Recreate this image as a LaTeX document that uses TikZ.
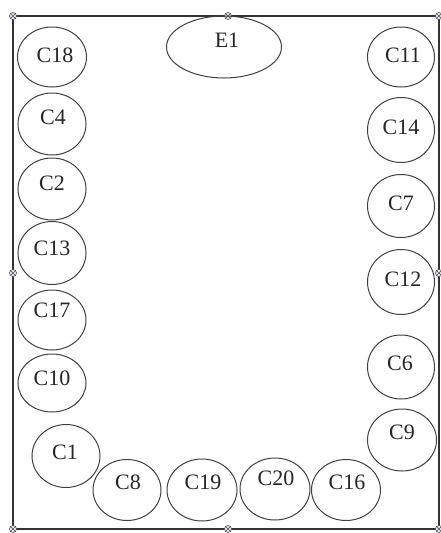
\documentclass[tikz,border=0pt]{standalone}
\usepackage{fontspec}
\setmainfont{Liberation Serif}
\usetikzlibrary{shapes.geometric}
\begin{document}
\begin{tikzpicture}[x=1pt,y=-1pt,
  ell/.style={draw=black!75,line width=1pt,ellipse,inner sep=0pt},
  lbl/.style={inner sep=0pt,font=\fontsize{22}{22}\selectfont,text height=14pt,text depth=0pt,text=black!85},
  frame/.style={draw=black!80,line width=1.3pt},
  handle/.style={circle,draw=black!70,fill=black!10,line width=0.6pt,minimum size=7pt,inner sep=0pt,cross out}
]
\useasboundingbox (0,0) rectangle (441,533);
% frame
\coordinate (tl) at (13,16);
\coordinate (br) at (439,529);
\draw[frame] (tl) rectangle (br);
% handles
\foreach \n/\p in {h1/{(13,16)},h2/{(228,16)},h3/{(439,16)},h4/{(13,273)},h5/{(439,273)},h6/{(13,529)},h7/{(228,529)},h8/{(439,529)}}{
  \node[circle,draw=black!70,fill=blue!8,line width=0.6pt,minimum size=7pt,inner sep=0pt] (\n) at \p {};
  \draw[black!70,line width=0.5pt] ([shift={(-2.2,-2.2)}]\n.center) -- ([shift={(2.2,2.2)}]\n.center)
        ([shift={(-2.2,2.2)}]\n.center) -- ([shift={(2.2,-2.2)}]\n.center);
}
% ellipses
\node[ell,minimum width=115pt,minimum height=62pt] (e1) at (224,47) {};
\node[ell,minimum width=69pt,minimum height=60pt] (c18) at (52,57) {};
\node[ell,minimum width=68pt,minimum height=62pt] (c4) at (52,124) {};
\node[ell,minimum width=68pt,minimum height=62pt] (c2) at (52,189) {};
\node[ell,minimum width=68pt,minimum height=63pt] (c13) at (52,253) {};
\node[ell,minimum width=68pt,minimum height=60pt] (c17) at (52,320) {};
\node[ell,minimum width=68pt,minimum height=58pt] (c10) at (52,383) {};
\node[ell,minimum width=68pt,minimum height=63pt] (c1) at (66,456) {};
\node[ell,minimum width=68pt,minimum height=61pt] (c8) at (127,490) {};
\node[ell,minimum width=70pt,minimum height=62pt] (c19) at (202,490) {};
\node[ell,minimum width=70pt,minimum height=62pt] (c20) at (275,489) {};
\node[ell,minimum width=69pt,minimum height=61pt] (c16) at (346,490) {};
\node[ell,minimum width=69pt,minimum height=62pt] (c9) at (402,440) {};
\node[ell,minimum width=67pt,minimum height=64pt] (c6) at (401,367) {};
\node[ell,minimum width=67pt,minimum height=65pt] (c12) at (401,282) {};
\node[ell,minimum width=67pt,minimum height=63pt] (c7) at (401,206) {};
\node[ell,minimum width=67pt,minimum height=65pt] (c14) at (401,130) {};
\node[ell,minimum width=67pt,minimum height=60pt] (c11) at (401,57) {};
% labels
\node[lbl] (te1) at (227,40) {E1};
\node[lbl] (tc18) at (55,55) {C18};
\node[lbl] (tc4) at (53,117) {C4};
\node[lbl] (tc2) at (52,183) {C2};
\node[lbl] (tc13) at (52,248) {C13};
\node[lbl] (tc17) at (52,310) {C17};
\node[lbl] (tc10) at (52,378) {C10};
\node[lbl] (tc1) at (65,452) {C1};
\node[lbl] (tc8) at (128,482) {C8};
\node[lbl] (tc19) at (203,482) {C19};
\node[lbl] (tc20) at (276,478) {C20};
\node[lbl] (tc16) at (347,482) {C16};
\node[lbl] (tc9) at (402,432) {C9};
\node[lbl] (tc6) at (400,363) {C6};
\node[lbl] (tc12) at (403,279) {C12};
\node[lbl] (tc7) at (401,203) {C7};
\node[lbl] (tc14) at (401,127) {C14};
\node[lbl] (tc11) at (403,55) {C11};
\end{tikzpicture}
\end{document}
